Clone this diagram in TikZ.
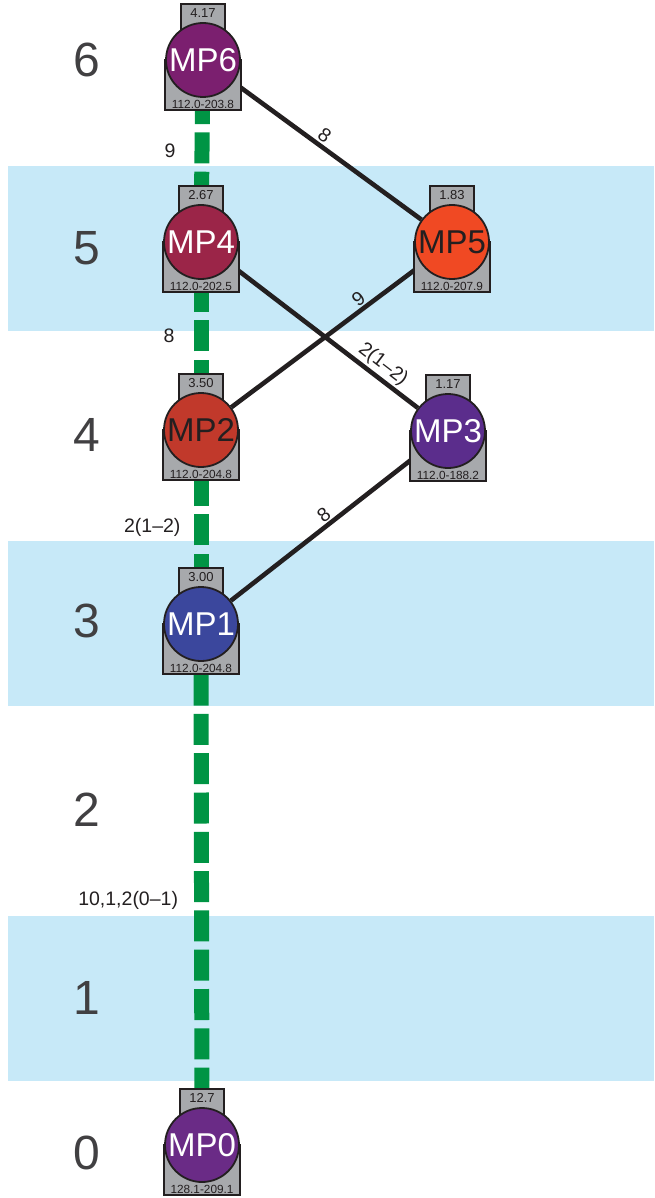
\documentclass[tikz,border=0pt]{standalone}
\usepackage{fontspec}
\setmainfont{Liberation Sans}
\usetikzlibrary{backgrounds}
\definecolor{band}{HTML}{C7E9F8}
\definecolor{grn}{HTML}{009444}
\definecolor{ink}{HTML}{231F20}
\definecolor{boxgray}{HTML}{A7A9AC}
\definecolor{lvl}{HTML}{414042}
\definecolor{cSix}{HTML}{7B1F6F}
\definecolor{cFive}{HTML}{F04923}
\definecolor{cFour}{HTML}{9B2548}
\definecolor{cThree}{HTML}{5B2D8C}
\definecolor{cTwo}{HTML}{C1392B}
\definecolor{cOne}{HTML}{3B479D}
\definecolor{cZero}{HTML}{6A2B86}
\pgfdeclarelayer{bandlayer}
\pgfdeclarelayer{edgelayer}
\pgfsetlayers{bandlayer,edgelayer,main}
\tikzset{
  boxst/.style={draw=ink, fill=boxgray, line width=1.8pt},
  mpcirc/.style={circle, draw=ink, line width=1.8pt, minimum size=74pt, inner sep=0pt,
    font=\fontsize{33}{33}\selectfont},
  toptxt/.style={inner sep=0pt, text=ink, font=\fontsize{13}{13}\selectfont},
  bottxt/.style={inner sep=0pt, text=ink, font=\fontsize{11.8}{11.8}\selectfont},
  lvlst/.style={inner sep=0pt, text=lvl, font=\fontsize{48}{48}\selectfont},
  grnline/.style={draw=grn, line width=15pt, dash pattern=on 31pt off 8.3pt},
  blkline/.style={draw=ink, line width=4.6pt},
  elabel/.style={inner sep=1pt, text=ink, font=\fontsize{19.5}{19.5}\selectfont},
}
\newcommand\mpnode[8]{%
  \draw[boxst] (#2-38,#3) rectangle (#2+38,#3+50);
  \draw[boxst] (#2-22,#3-56) rectangle (#2+22,#3-30);
  \node[mpcirc, fill=#4, text=#5] (#1) at (#2,#3) {#6};
  \node[toptxt] (#1t) at (#2,#3-47) {#7};
  \node[bottxt] (#1b) at (#2,#3+44) {#8};
}
\begin{document}
\begin{tikzpicture}[x=1pt, y=-1pt]
\useasboundingbox (0,0) rectangle (654,1198);
\begin{pgfonlayer}{bandlayer}
  \fill[band] (8,166) rectangle (654,331);
  \fill[band] (8,541) rectangle (654,706);
  \fill[band] (8,916) rectangle (654,1081);
\end{pgfonlayer}
% level labels
\node[lvlst] (L6) at (87,60) {6};
\node[lvlst] (L5) at (87,248) {5};
\node[lvlst] (L4) at (87,435) {4};
\node[lvlst] (L3) at (87,621) {3};
\node[lvlst] (L2) at (87,810) {2};
\node[lvlst] (L1) at (87,998) {1};
\node[lvlst] (L0) at (87,1153) {0};
% nodes
\mpnode{MP6}{203}{60}{cSix}{white}{MP6}{4.17}{112.0-203.8}
\mpnode{MP4}{201}{242}{cFour}{white}{MP4}{2.67}{112.0-202.5}
\mpnode{MP5}{452}{242}{cFive}{ink}{MP5}{1.83}{112.0-207.9}
\mpnode{MP2}{201}{430}{cTwo}{ink}{MP2}{3.50}{112.0-204.8}
\mpnode{MP3}{448}{431}{cThree}{white}{MP3}{1.17}{112.0-188.2}
\mpnode{MP1}{201}{624}{cOne}{white}{MP1}{3.00}{112.0-204.8}
\mpnode{MP0}{202}{1145}{cZero}{white}{MP0}{12.7}{128.1-209.1}
% edges
\begin{pgfonlayer}{edgelayer}
  \draw[grnline, dash phase=32.2pt] (MP0.center) -- node[elabel, pos=0.47, anchor=east, xshift=-15pt] (e01) {10,1,2(0–1)} (MP1.center);
  \draw[grnline] (MP1.center) -- node[elabel, anchor=east, xshift=-12pt] (e12) {2(1–2)} (MP2.center);
  \draw[grnline] (MP2.center) -- node[elabel, anchor=east, xshift=-18pt] (e24) {8} (MP4.center);
  \draw[grnline] (MP4.center) -- node[elabel, anchor=east, xshift=-18pt] (e46) {9} (MP6.center);
  \draw[blkline] (MP6) -- node[elabel, sloped, above=1pt, pos=0.45] (e65) {8} (MP5);
  \draw[blkline] (MP2) -- node[elabel, sloped, above=0pt, pos=0.7] (e25) {9} (MP5);
  \draw[blkline] (MP4) -- node[elabel, sloped, above=1pt, pos=0.77] (e43) {2(1–2)} (MP3);
  \draw[blkline] (MP1) -- node[elabel, sloped, above=0pt, pos=0.53] (e13) {8} (MP3);
\end{pgfonlayer}
\end{tikzpicture}
\end{document}
